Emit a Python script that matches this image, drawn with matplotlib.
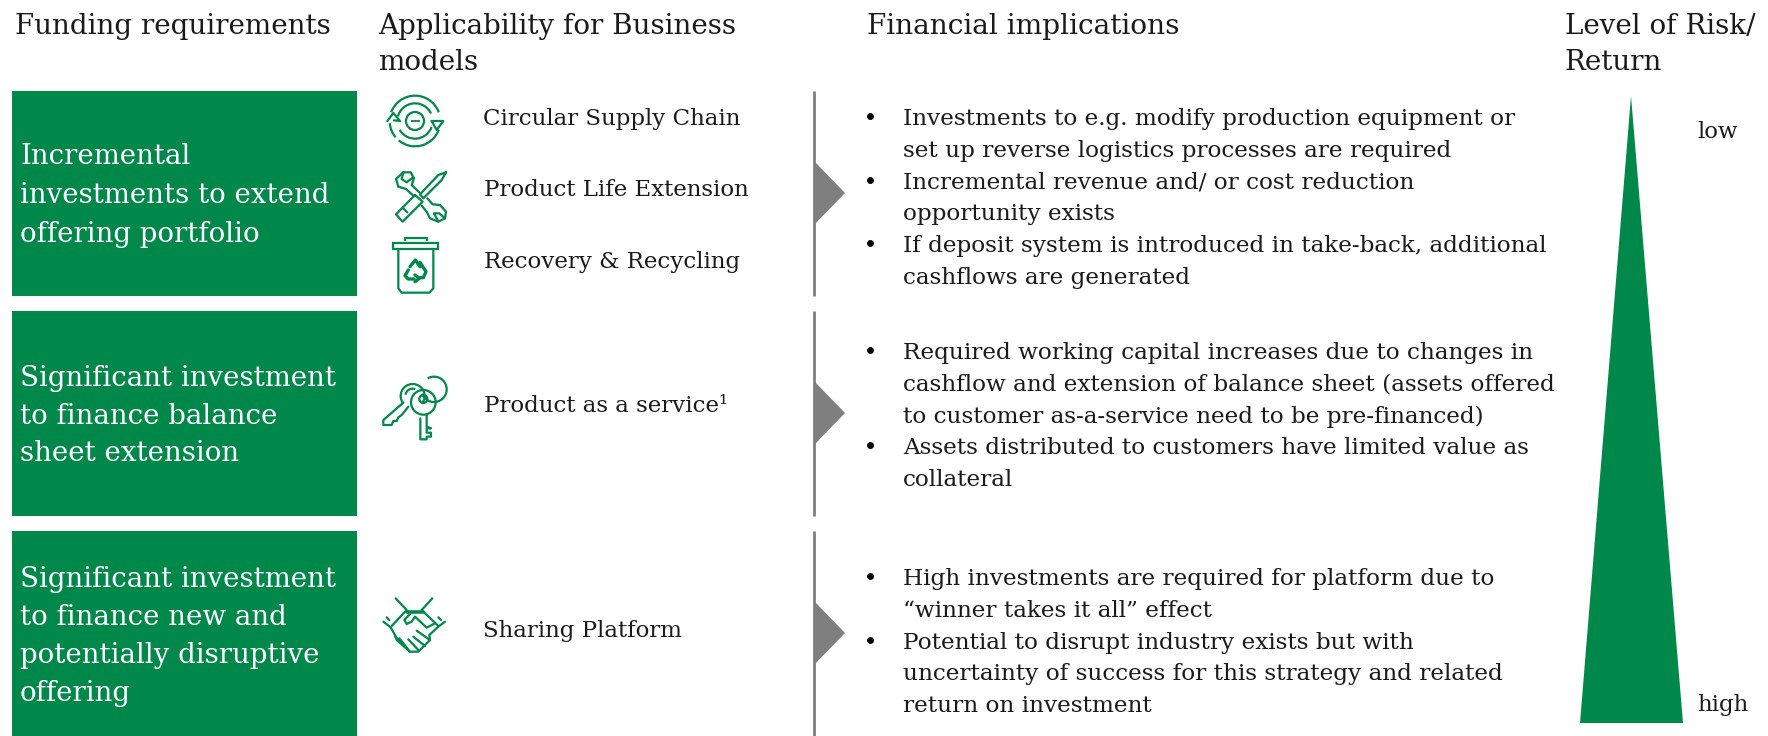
import matplotlib
matplotlib.use("Agg")
import matplotlib.pyplot as plt
from matplotlib.patches import Rectangle, Polygon, Circle, Arc

GREEN = "#00874A"
GREY = "#7F7F7F"
INK = "#1A1A1A"
SERIF = ["DejaVu Serif"]

# text content
headers = ["Funding requirements", ["Applicability for Business", "models"],
           "Financial implications", ["Level of Risk/", "Return"]]
funding = [
    ["Incremental", "investments to extend", "offering portfolio"],
    ["Significant investment", "to finance balance", "sheet extension"],
    ["Significant investment", "to finance new and", "potentially disruptive", "offering"],
]
models = ["Circular Supply Chain", "Product Life Extension", "Recovery & Recycling",
          "Product as a service\u00b9", "Sharing Platform"]
implications = [
    [["Investments to e.g. modify production equipment or", "set up reverse logistics processes are required"],
     ["Incremental revenue and/ or cost reduction", "opportunity exists"],
     ["If deposit system is introduced in take-back, additional", "cashflows are generated"]],
    [["Required working capital increases due to changes in", "cashflow and extension of balance sheet (assets offered",
      "to customer as-a-service need to be pre-financed)"],
     ["Assets distributed to customers have limited value as", "collateral"]],
    [["High investments are required for platform due to", "\u201cwinner takes it all\u201d effect"],
     ["Potential to disrupt industry exists but with", "uncertainty of success for this strategy and related",
      "return on investment"]],
]
risk_labels = ["low", "high"]

fig = plt.figure(figsize=(17.68, 7.36), dpi=100)
ax = fig.add_axes([0, 0, 1, 1])
ax.set_xlim(0, 1768)
ax.set_ylim(736, 0)
ax.axis("off")


def txt(x, y, s, size, color=INK):
    ax.text(x, y, s, fontsize=size, color=color, family=SERIF, va="baseline", ha="left")


def line(x0, y0, pts, lw=1.6):
    # pts are given in 3x zoom pixels, relative to the icon crop
    ax.plot([x0 + p[0] / 3 for p in pts], [y0 + p[1] / 3 for p in pts], color=GREEN, lw=lw,
            solid_capstyle="round", solid_joinstyle="round")


def circle(x0, y0, cx, cy, r, lw=1.6):
    ax.add_patch(Circle((x0 + cx / 3, y0 + cy / 3), r / 3, fill=False, ec=GREEN, lw=lw))


def arc(x0, y0, cx, cy, r, a0, a1, lw=1.6):
    ax.add_patch(Arc((x0 + cx / 3, y0 + cy / 3), 2 * r / 3, 2 * r / 3, theta1=a0, theta2=a1, ec=GREEN, lw=lw))


def icon_cycle(x, y):
    circle(x, y, 135, 108, 27)
    line(x, y, [(125, 109), (128, 109)])
    line(x, y, [(134, 109), (137, 109)])
    line(x, y, [(143, 109), (146, 109)])
    # y axis is flipped, angles run clockwise on screen
    arc(x, y, 135, 108, 76, 20, 130)
    arc(x, y, 135, 108, 76, 140, 175)
    arc(x, y, 135, 108, 76, 200, 340)
    arc(x, y, 135, 108, 53, 20, 150)
    arc(x, y, 135, 108, 53, 195, 335)
    line(x, y, [(52, 108), (70, 84), (90, 108), (72, 106)])
    line(x, y, [(185, 108), (220, 108), (200, 135), (185, 108)])


def icon_tools(x, y):
    # screwdriver
    line(x, y, [(228, 262), (205, 270), (150, 328), (160, 340), (215, 285), (228, 262)])
    line(x, y, [(135, 330), (78, 388), (98, 410), (158, 350), (135, 330)])
    line(x, y, [(100, 370), (112, 382)])
    # wrench
    line(x, y, [(100, 262), (78, 282), (85, 305), (108, 312), (130, 332)])
    line(x, y, [(100, 262), (122, 262), (132, 280), (125, 300), (148, 322)])
    line(x, y, [(100, 262), (95, 282), (110, 292), (128, 278)])
    line(x, y, [(172, 340), (188, 358), (210, 360), (228, 380), (225, 400), (205, 410), (180, 400), (170, 380), (155, 362)])
    line(x, y, [(225, 400), (208, 385), (192, 385), (205, 410)])


def icon_bin(x, y):
    line(x, y, [(105, 466), (105, 459), (170, 459), (170, 466)])
    ax.add_patch(Rectangle((x + 70 / 3, y + 475 / 3), 134 / 3, 18 / 3, fill=False, ec=GREEN, lw=1.6))
    line(x, y, [(85, 493), (85, 610), (95, 623), (178, 623), (190, 610), (190, 493)])
    # recycle mark
    line(x, y, [(120, 545), (136, 525), (150, 545)], lw=2.4)
    line(x, y, [(150, 532), (168, 560), (160, 578), (148, 578)], lw=2.4)
    line(x, y, [(115, 555), (105, 572), (115, 582), (132, 582)], lw=2.4)
    line(x, y, [(135, 570), (148, 580), (135, 590)], lw=2.4)


def icon_keys(x, y):
    arc(x, y, 192, 88, 38, 240, 160)
    circle(x, y, 160, 127, 37)
    circle(x, y, 160, 117, 12)
    arc(x, y, 128, 108, 36, 140, 40)
    arc(x, y, 128, 108, 22, 190, 290)
    line(x, y, [(100, 128), (40, 180), (40, 195), (65, 195), (70, 183), (80, 183), (85, 172), (95, 165), (115, 140)])
    line(x, y, [(151, 175), (151, 238), (170, 238), (170, 230), (183, 230), (183, 218), (170, 218), (170, 205), (183, 205), (170, 200), (170, 165)])


def icon_hands(x, y):
    line(x, y, [(77, 715), (110, 750), (65, 798)])
    line(x, y, [(187, 715), (155, 750), (205, 798)])
    line(x, y, [(110, 757), (160, 757)], lw=2.6)
    line(x, y, [(40, 785), (62, 802), (75, 825), (80, 840), (120, 875), (145, 875), (180, 840), (178, 825), (205, 800), (225, 785)])
    line(x, y, [(50, 772), (58, 780)])
    line(x, y, [(205, 772), (213, 780)])
    line(x, y, [(120, 762), (103, 780), (110, 792), (125, 785), (135, 770), (170, 803), (195, 790)])
    line(x, y, [(75, 828), (120, 875)])
    line(x, y, [(130, 830), (165, 858)])
    line(x, y, [(140, 812), (180, 840)])
    line(x, y, [(115, 838), (145, 870)])
    line(x, y, [(88, 835), (100, 850)])
    line(x, y, [(100, 850), (112, 865)])


# headers
txt(15, 34, headers[0], 20)
txt(378, 34, headers[1][0], 20)
txt(378, 70, headers[1][1], 20)
txt(867, 34, headers[2], 20.2)
txt(1565, 34, headers[3][0], 20)
txt(1565, 70, headers[3][1], 20)

# left column, three rows
row_tops = [91, 311, 531]
row_h = 205
first_line = [164, 386, 587]
spacing = [38.8, 37.5, 38]
for top, lines, base, dy in zip(row_tops, funding, first_line, spacing):
    ax.add_patch(Rectangle((12, top), 345, row_h, fc=GREEN, ec="none"))
    for i, s in enumerate(lines):
        txt(20, base + i * dy, s, 19.9, "white")

    # divider and its arrow
    ax.plot([814, 814], [top, top + row_h], color=GREY, lw=2, solid_capstyle="butt")
    mid = top + 102
    ax.add_patch(Polygon([(814, mid - 32), (845, mid), (814, mid + 32)], fc=GREY, ec="none"))

# business models
model_xy = [(483, 125), (484, 196), (484, 268), (484, 412), (483, 637)]
for (x, y), s in zip(model_xy, models):
    txt(x, y, s, 16.5)

icon_cycle(370, 85)
icon_tools(370, 85)
icon_bin(370, 85)
icon_keys(370, 360)
icon_hands(370, 360)

# financial implications
block_base = [125, 359, 585]
for blocks, base in zip(implications, block_base):
    n = 0
    for block in blocks:
        for j, s in enumerate(block):
            y = base + n * 31.8
            if j == 0:
                ax.plot(870, y - 9, "o", color="black", ms=5, mew=0)
            txt(903, y, s, 16.7)
            n += 1

# risk wedge
ax.add_patch(Polygon([(1631, 96), (1580, 723), (1683, 723)], fc=GREEN, ec="none"))
txt(1697, 138, risk_labels[0], 16.5)
txt(1697, 711, risk_labels[1], 16.5)

fig.savefig("out.png", dpi=100)
